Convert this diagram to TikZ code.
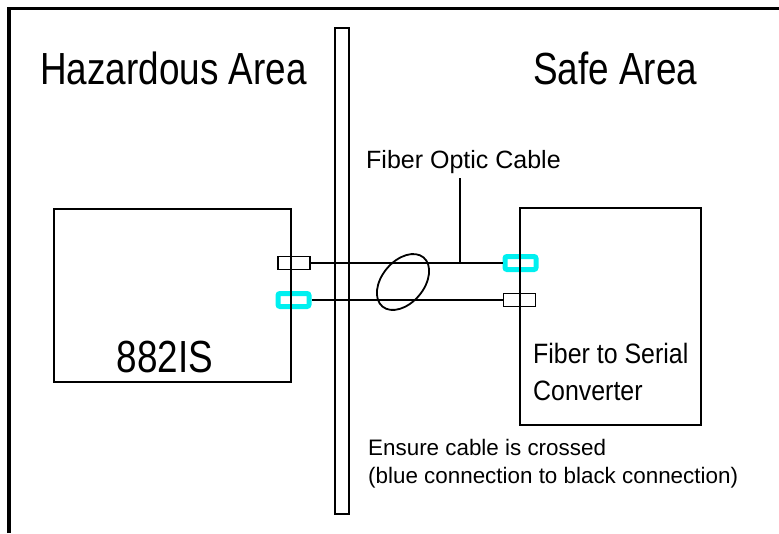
\documentclass[tikz,border=0pt]{standalone}
\usepackage{fontspec}
\setmainfont{Liberation Sans}
\newfontfamily\narrowfont{Liberation Sans}[FakeStretch=0.82]
\newfontfamily\semifont{Liberation Sans}[FakeStretch=0.89]
\usepackage{tikz}
\usetikzlibrary{shapes,positioning}
\definecolor{portblue}{RGB}{0, 240, 240}

\begin{document}
\begin{tikzpicture}[x=1pt, y=-1pt,
    unitbox/.style={draw, line width=1.7pt, inner sep=0, anchor=north west},
    blackport/.style={draw, line width=1.6pt, minimum width=32pt, minimum height=13pt, inner sep=0},
    blueport/.style={draw=portblue, line width=5pt, rounded corners=2pt, minimum width=31pt, minimum height=13pt, inner sep=0},
    cable/.style={line width=1.6pt}]
            \useasboundingbox (0,0) rectangle (779,533);
            % Frame
            \draw[line width=3.5pt] (9,533) -- (9,8.5) -- (779,8.5);

            % Connectors
            \node[blackport] (hazA) at (294,263) {};
            \node[blueport] (hazB) at (293.5,300) {};
            \node[blueport] (convA) at (520.5,263) {};
            \node[blackport] (convB) at (519.5,300) {};

            % Units and barrier
            \node[unitbox, minimum width=237pt, minimum height=173pt] (hazbox) at (53,208) {};
            \node[unitbox, minimum width=181pt, minimum height=217pt] (convbox) at (519,207) {};
            \node[unitbox, minimum width=14pt, minimum height=486pt] (barrier) at (334,27) {};

            % Fiber pair
            \draw[cable] (hazA.east) -- (convA.west);
            \draw[cable] (hazB.east) -- (convB.west);
            \node[draw, ellipse, line width=1.8pt, minimum width=64pt, minimum height=42pt, inner sep=0, rotate=50] (bundle) at (403,282) {};
            \coordinate (tap) at (460,263);

            % Labels
            \node[anchor=base west, inner sep=0, font=\narrowfont\fontsize{45}{54}\selectfont] (hazlbl) at (40,84) {Hazardous Area};
            \node[anchor=base west, inner sep=0, font=\narrowfont\fontsize{45}{54}\selectfont] (safelbl) at (533,84) {Safe Area};
            \node[anchor=base, inner sep=0, font=\narrowfont\fontsize{45}{54}\selectfont] (hazname) at (165,372) {882IS};
            \node[anchor=base west, inner sep=0, font=\semifont\fontsize{28}{34}\selectfont] (convname) at (533,363) {Fiber to Serial};
            \node[anchor=base west, inner sep=0, font=\semifont\fontsize{28}{34}\selectfont] (convname2) at (533,400) {Converter};
            \node[anchor=base west, inner sep=0, font=\fontsize{25}{30}\selectfont] (fiberlbl) at (366,168) {Fiber Optic Cable};
            \draw[cable] (tap) -- (tap |- 0,178);
            \node[anchor=base west, inner sep=0, font=\fontsize{22.4}{27}\selectfont] (note1) at (368,455) {Ensure cable is crossed};
            \node[anchor=base west, inner sep=0, font=\fontsize{22.4}{27}\selectfont] (note2) at (368,483) {(blue connection to black connection)};
\end{tikzpicture}
\end{document}
